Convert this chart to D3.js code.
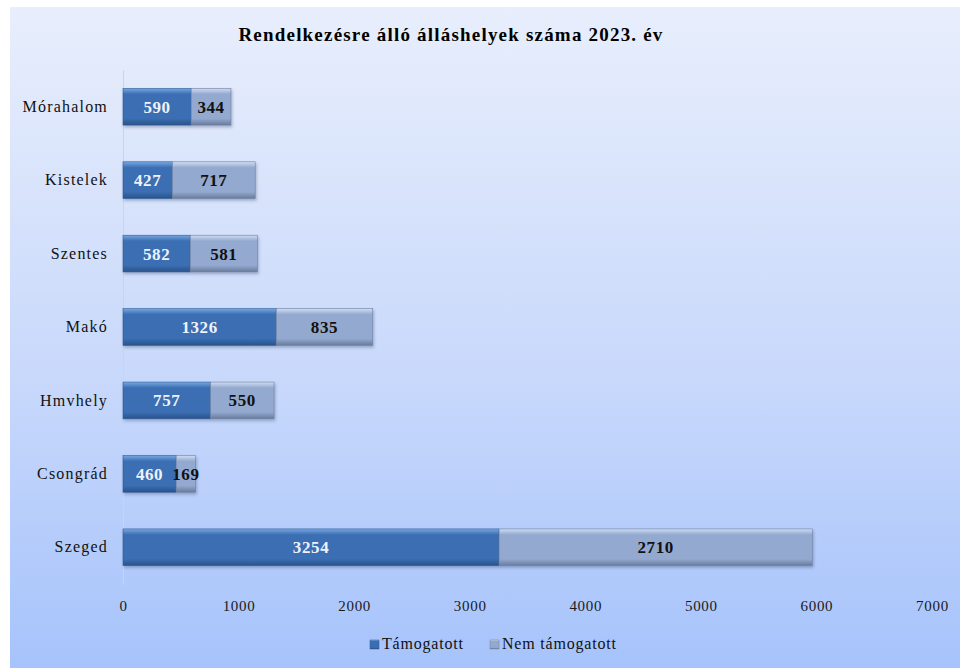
<!DOCTYPE html>
<html>
<head>
<meta charset="utf-8">
<script src="https://cdn.jsdelivr.net/npm/d3@7"></script>
<style>
  body { margin: 0; background: #ffffff; }
  text { font-family: "Liberation Serif", "Times New Roman", serif; }
</style>
</head>
<body>
<div id="chart"></div>
<script>
// chart data
var categories = ["Mórahalom", "Kistelek", "Szentes", "Makó", "Hmvhely", "Csongrád", "Szeged"];
var tamogatott = [590, 427, 582, 1326, 757, 460, 3254];
var nemTamogatott = [344, 717, 581, 835, 550, 169, 2710];
var xTicks = [0, 1000, 2000, 3000, 4000, 5000, 6000, 7000];
var seriesNames = ["Támogatott", "Nem támogatott"];

var svgWidth = 960, svgHeight = 668;
var margin = {top: 70, bottom: 84, left: 123, right: 28};
var chartWidth = svgWidth - margin.left - margin.right;
var chartHeight = svgHeight - margin.top - margin.bottom;

var svg = d3.select("#chart").append("svg")
    .attr("width", svgWidth)
    .attr("height", svgHeight);

var defs = svg.append("defs");

// background gradient
var bg = defs.append("linearGradient").attr("id", "bg")
    .attr("x1", 0).attr("y1", 0).attr("x2", 0).attr("y2", 1);
bg.append("stop").attr("offset", "0%").attr("stop-color", "#e8eefc");
bg.append("stop").attr("offset", "55%").attr("stop-color", "#c9d9fb");
bg.append("stop").attr("offset", "100%").attr("stop-color", "#a6c3fb");

// bar gradients (bevel look)
function barGradient(id, light, mid, dark) {
    var g = defs.append("linearGradient").attr("id", id)
        .attr("x1", 0).attr("y1", 0).attr("x2", 0).attr("y2", 1);
    g.append("stop").attr("offset", "0%").attr("stop-color", light);
    g.append("stop").attr("offset", "16%").attr("stop-color", mid);
    g.append("stop").attr("offset", "82%").attr("stop-color", mid);
    g.append("stop").attr("offset", "100%").attr("stop-color", dark);
}
barGradient("gBlue", "#78a8e2", "#3a6eb2", "#2a5289");
barGradient("gGrey", "#d0ddf3", "#93a9cf", "#687b9b");

var shadow = defs.append("filter").attr("id", "shadow")
    .attr("x", "-5%").attr("y", "-20%").attr("width", "110%").attr("height", "160%");
shadow.append("feDropShadow").attr("dx", 1).attr("dy", 2).attr("stdDeviation", 1.5)
    .attr("flood-color", "#334466").attr("flood-opacity", 0.35);

svg.append("rect")
    .attr("x", 10).attr("y", 7)
    .attr("width", svgWidth - 10).attr("height", svgHeight - 7)
    .attr("fill", "url(#bg)");

// title
svg.append("text")
    .attr("x", 451).attr("y", 41)
    .attr("text-anchor", "middle")
    .style("font-size", "19px")
    .style("font-weight", "bold")
    .style("letter-spacing", "1.2px")
    .text("Rendelkezésre álló álláshelyek száma 2023. év");

var chartGroup = svg.append("g")
    .attr("transform", `translate(${margin.left},${margin.top})`);

var xScale = d3.scaleLinear().domain([0, 7000]).range([0, 809]);
var yScale = d3.scaleBand().domain(categories).range([0, chartHeight]).paddingInner(0.5).paddingOuter(0.25);

// x axis (labels only)
var xAxis = d3.axisBottom(xScale).tickValues(xTicks).tickFormat(d3.format("d")).tickSize(0).tickPadding(0);
var xg = chartGroup.append("g")
    .attr("transform", `translate(0,${chartHeight + 16})`)
    .call(xAxis);
xg.select(".domain").remove();
xg.selectAll("text")
    .style("font-size", "15px")
    .style("letter-spacing", "0.7px")
    .attr("fill", "#1a1a1a");

// y axis
var yAxis = d3.axisLeft(yScale).tickSize(0).tickPadding(15);
var yg = chartGroup.append("g").call(yAxis);
yg.select(".domain").attr("stroke", "#d9d2cc");
yg.selectAll("text")
    .style("font-size", "16px")
    .style("letter-spacing", "1.2px")
    .attr("fill", "#111");

var rows = categories.map(function(c, i) {
    return {cat: c, a: tamogatott[i], b: nemTamogatott[i]};
});

var bars = chartGroup.append("g");
rows.forEach(function(d) {
    var y = yScale(d.cat), h = yScale.bandwidth();
    var g = bars.append("g").attr("filter", "url(#shadow)");
    g.append("rect")
        .attr("x", xScale(0)).attr("y", y)
        .attr("width", xScale(d.a) - xScale(0)).attr("height", h)
        .attr("fill", "url(#gBlue)")
        .attr("stroke", "#2f5d98").attr("stroke-width", 0.6);
    g.append("rect")
        .attr("x", xScale(d.a)).attr("y", y)
        .attr("width", xScale(d.a + d.b) - xScale(d.a)).attr("height", h)
        .attr("fill", "url(#gGrey)")
        .attr("stroke", "#6f82a3").attr("stroke-width", 0.6);
});

// data labels
var labels = chartGroup.append("g")
    .style("font-size", "17px")
    .style("font-weight", "bold")
    .style("letter-spacing", "0.6px")
    .attr("text-anchor", "middle");
rows.forEach(function(d) {
    var yc = yScale(d.cat) + yScale.bandwidth() / 2;
    labels.append("text")
        .attr("x", xScale(d.a / 2)).attr("y", yc).attr("dy", "0.35em")
        .attr("fill", "#eef3fb")
        .text(d.a);
    labels.append("text")
        .attr("x", xScale(d.a + d.b / 2)).attr("y", yc).attr("dy", "0.35em")
        .attr("fill", "#111")
        .text(d.b);
});

// legend
var legend = svg.append("g").attr("transform", "translate(370,649)");
var legendX = [0, 120];
var legendFill = ["url(#gBlue)", "url(#gGrey)"];
seriesNames.forEach(function(name, i) {
    var lg = legend.append("g").attr("transform", `translate(${legendX[i]},0)`);
    lg.append("rect").attr("x", 0).attr("y", -9).attr("width", 9).attr("height", 9)
        .attr("fill", legendFill[i]).attr("stroke", i ? "#6f82a3" : "#2f5d98").attr("stroke-width", 0.5);
    lg.append("text").attr("x", 12).attr("y", 0)
        .style("font-size", "16px")
        .style("letter-spacing", "0.8px")
        .attr("fill", "#111")
        .text(name);
});
</script>
</body>
</html>
